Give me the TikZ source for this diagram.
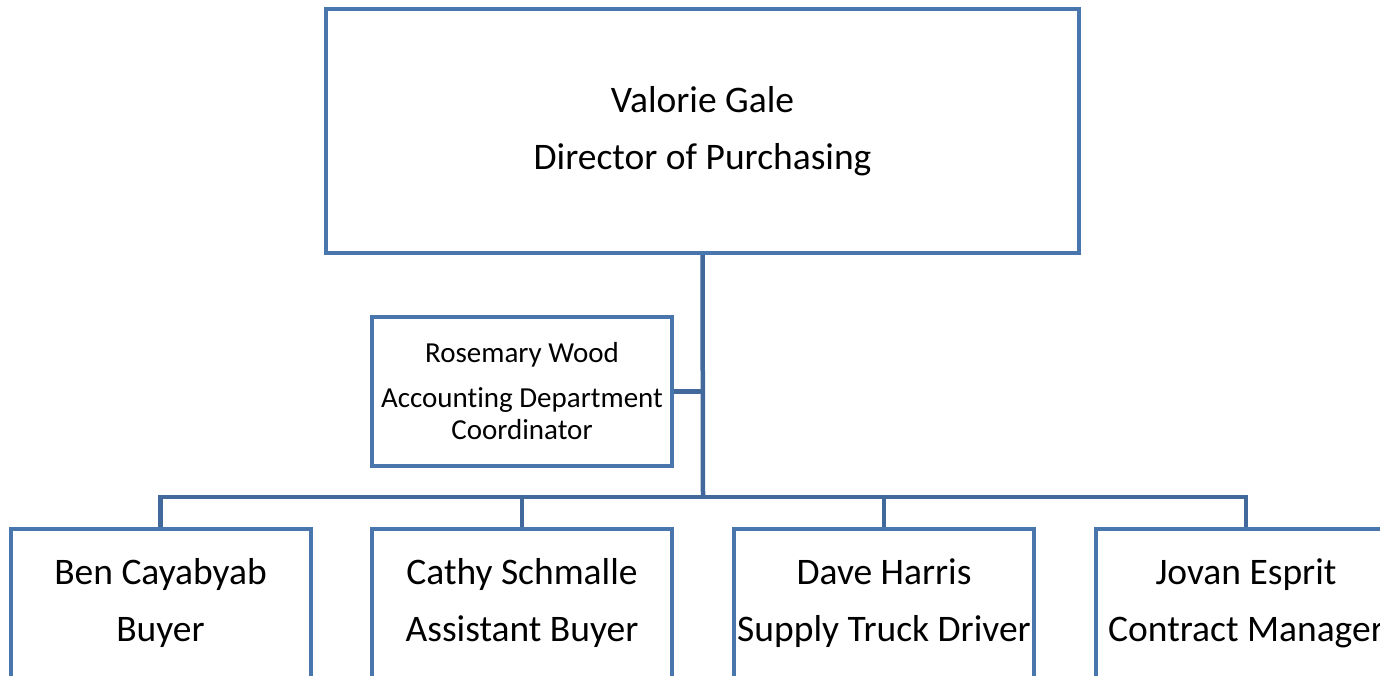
\documentclass[tikz,border=0pt]{standalone}
\usepackage{fontspec}
\setmainfont[Ligatures=NoCommon]{Carlito}
\usetikzlibrary{positioning}
\definecolor{boxblue}{HTML}{4A76AE}
\definecolor{linkblue}{HTML}{41699B}
\tikzset{
  person/.style={draw=boxblue, line width=4pt, fill=white, align=center,
    minimum width=300pt, minimum height=149pt, inner sep=0pt,
    font=\fontsize{37.5}{57}\selectfont},
  link/.style={draw=linkblue, line width=4.5pt}
}
\begin{document}
\begin{tikzpicture}[x=1pt, y=-1pt]
			%%%%% START %%%%%
			\useasboundingbox (0, 0) rectangle (1380, 675);
			\clip (0, 0) rectangle (1380, 675);
			
			\node[person, minimum width=753pt, minimum height=244pt] (director) at (702.5, 131) {Valorie Gale\\Director of Purchasing};
			\node[person, font=\fontsize{29}{32}\selectfont] (rosemary) at (522, 391.5) {Rosemary Wood\\[13pt]Accounting Department\\Coordinator};
			
			\node[person] (ben) at (160.5, 603) {Ben Cayabyab\\Buyer};
			\node[person] (cathy) at (522, 603) {Cathy Schmalle\\Assistant Buyer};
			\node[person] (dave) at (884, 603) {Dave Harris\\Supply Truck Driver};
			\node[person] (jovan) at (1246, 603) {Jovan Esprit\\Contract Manager};
			
			\coordinate (bus) at (703, 497);
			\draw[link] (director.south) -- (bus);
			\draw[link] (rosemary.east) -- (rosemary.east -| bus);
			\draw[link] (ben.north) |- (bus) -| (jovan.north);
			\draw[link] (cathy.north) -- (cathy.north |- bus);
			\draw[link] (dave.north) -- (dave.north |- bus);
			%%%%% END %%%%%
		\end{tikzpicture}
\end{document}
